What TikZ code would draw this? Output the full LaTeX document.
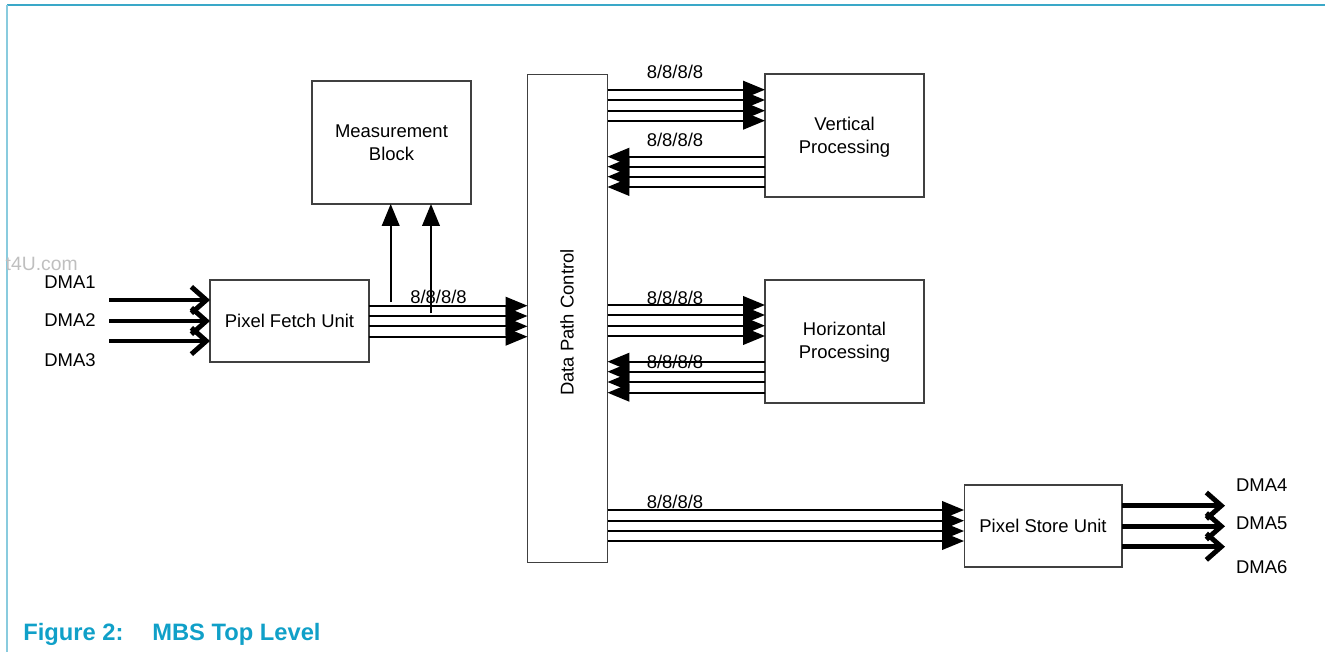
\documentclass[tikz,border=0pt]{standalone}
\usepackage{fontspec}
\setmainfont{Liberation Sans}
\usetikzlibrary{arrows.meta}
\definecolor{capblue}{RGB}{16,160,200}
\definecolor{rulecol}{RGB}{58,168,200}

\begin{document}
\begin{tikzpicture}[x=0.02cm,y=-0.02cm,font=\fontsize{10.5}{13}\selectfont,
  box/.style={draw=black!75,line width=0.6pt,inner sep=0pt,outer sep=0pt,align=center},
  bus/.style={line width=1.15pt,-{Triangle[length=12.5pt,width=10pt]}},
  dmabus/.style={line width=2.8pt,-{Straight Barb[length=8.5pt,width=15pt]}},
  buslbl/.style={anchor=base,inner sep=0pt}]
\useasboundingbox (0,0) rectangle (1325,652);
% frame
\draw[rulecol,line width=1pt] (7,5) -- (1325,5);
\draw[rulecol!60,line width=1.3pt] (7,5) -- (7,652);
\node[anchor=base east,inner sep=0pt,text=black!25,font=\fontsize{11}{13}\selectfont] (wmark) at (78,270) {t4U.com};
% blocks
\node[box,minimum width=3.18cm,minimum height=2.46cm] (mb) at (391.5,142.5) {Measurement\\Block};
\node[box,minimum width=1.6cm,minimum height=9.78cm] (dpc) at (567.5,318.5) {};
\node[rotate=90] (dpclbl) at (567,322.5) {Data Path Control};
\node[box,minimum width=3.18cm,minimum height=1.64cm] (pfu) at (289.5,321) {Pixel Fetch Unit};
\node[box,minimum width=3.18cm,minimum height=2.46cm] (vp) at (844.5,135.5) {};
\node[align=center] (vplbl) at (844.5,137) {Vertical\\Processing};
\node[box,minimum width=3.18cm,minimum height=2.46cm] (hp) at (844.5,341.5) {};
\node[align=center] (hplbl) at (844.5,342.5) {Horizontal\\Processing};
\node[box,minimum width=3.16cm,minimum height=1.64cm] (psu) at (1043,526) {Pixel Store Unit};
% buses
\foreach \y in {305.7,316,326.3,336.7}
  \draw[bus] (pfu.east |- 0,\y) -- (dpc.west |- 0,\y);
\foreach \y in {89.7,100,110.7,120.7}
  \draw[bus] (dpc.east |- 0,\y) -- (vp.west |- 0,\y);
\foreach \y in {156.7,166.7,176.7,187}
  \draw[bus] (vp.west |- 0,\y) -- (dpc.east |- 0,\y);
\foreach \y in {305,315,325.7,336}
  \draw[bus] (dpc.east |- 0,\y) -- (hp.west |- 0,\y);
\foreach \y in {361.7,371.7,382,392.7}
  \draw[bus] (hp.west |- 0,\y) -- (dpc.east |- 0,\y);
\foreach \y in {510,520.7,531,541}
  \draw[bus] (dpc.east |- 0,\y) -- (psu.west |- 0,\y);
\node[buslbl] (bwpfu) at (438.5,303.3) {8/8/8/8};
\node[buslbl] (bwvout) at (675,79) {8/8/8/8};
\node[buslbl] (bwvin) at (675,146.7) {8/8/8/8};
\node[buslbl] (bwhout) at (675,304) {8/8/8/8};
\node[buslbl] (bwhin) at (675,368) {8/8/8/8};
\node[buslbl] (bwpsu) at (675,508) {8/8/8/8};
% taps to measurement block
\coordinate (tapa) at (390.7,302);
\coordinate (tapb) at (431,313.3);
\draw[bus] (tapa) -- (tapa |- mb.south);
\draw[bus] (tapb) -- (tapb |- mb.south);
% dma channels
\foreach \n/\y in {1/300,2/321,3/341} {
  \coordinate (in\n) at (109,\y);
  \draw[dmabus] (in\n) -- (in\n -| pfu.west);
}
\foreach \n/\y in {4/505.7,5/526.3,6/546.7} {
  \coordinate (out\n) at (1225,\y);
  \draw[dmabus] (psu.east |- out\n) -- (out\n);
}
\node (dma1) at (70,282) {DMA1};
\node (dma2) at (70,320) {DMA2};
\node (dma3) at (70,360) {DMA3};
\node (dma4) at (1261.7,485) {DMA4};
\node (dma5) at (1261.7,523.3) {DMA5};
\node (dma6) at (1261.7,566.7) {DMA6};
% caption
\node[anchor=base west,inner sep=0pt,text=capblue,font=\bfseries\fontsize{13.5}{16}\selectfont] (figno) at (23,640) {Figure 2:};
\node[anchor=base west,inner sep=0pt,text=capblue,font=\bfseries\fontsize{13.5}{16}\selectfont] (figtitle) at (152,640) {MBS Top Level};
\end{tikzpicture}
\end{document}
